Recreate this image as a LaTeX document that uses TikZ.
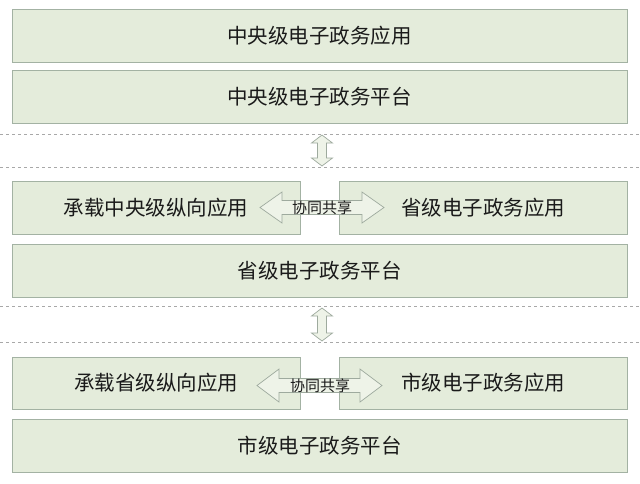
\documentclass[tikz,border=0pt]{standalone}
\usepackage{fontspec}
\newfontfamily\cjk{Noto Sans CJK SC}
\definecolor{boxfill}{HTML}{E4ECDB}
\definecolor{boxline}{HTML}{A3B2A3}
\definecolor{arrfill}{HTML}{EEF3E8}
\definecolor{arrline}{HTML}{9EAA9E}
\definecolor{txt}{HTML}{1A1A1A}
\definecolor{dashc}{HTML}{A8A8A8}
\begin{document}
\begin{tikzpicture}[x=1pt,y=-1pt,
  layer/.style={draw=boxline,fill=boxfill,line width=0.8pt,inner sep=0pt,font=\cjk\fontsize{20.5}{20.5}\selectfont,text=txt},
  arrowsty/.style={draw=arrline,fill=arrfill,line width=0.7pt,line join=miter},
  sep/.style={draw=dashc,dashed,line width=0.6pt},
  small/.style={font=\cjk\fontsize{15}{15}\selectfont,text=txt,inner sep=0pt}]
\useasboundingbox (0,0) rectangle (640,483);
\fill[white] (0,0) rectangle (640,483);
% layers
\node[layer,minimum width=615pt,minimum height=53pt] (b1) at (319.5,35.5) {中央级电子政务应用};
\node[layer,minimum width=615pt,minimum height=53pt] (b2) at (319.5,96.5) {中央级电子政务平台};
\node[layer,minimum width=288pt,minimum height=53pt] (b3l) at (156,207.5) {承载中央级纵向应用};
\node[layer,minimum width=288pt,minimum height=53pt] (b3r) at (483,207.5) {省级电子政务应用};
\node[layer,minimum width=615pt,minimum height=53pt] (b4) at (319.5,270.5) {省级电子政务平台};
\node[layer,minimum width=288pt,minimum height=52pt] (b5l) at (156,383) {承载省级纵向应用};
\node[layer,minimum width=288pt,minimum height=52pt] (b5r) at (483,383) {市级电子政务应用};
\node[layer,minimum width=615pt,minimum height=53pt] (b6) at (319.5,445.5) {市级电子政务平台};
% separators
\coordinate (d1a) at (0,134); \coordinate (d1b) at (640,134);
\coordinate (d2a) at (0,167); \coordinate (d2b) at (640,167);
\coordinate (d3a) at (0,306); \coordinate (d3b) at (640,306);
\coordinate (d4a) at (0,342); \coordinate (d4b) at (640,342);
\draw[sep] (d1a) -- (d1b);
\draw[sep] (d2a) -- (d2b);
\draw[sep] (d3a) -- (d3b);
\draw[sep] (d4a) -- (d4b);
% vertical double arrows
\draw[arrowsty] (317.5,143) -- (311.5,143) -- (322,135) -- (332.5,143) -- (326.5,143) -- (326.5,158) -- (332.5,158) -- (322,166) -- (311.5,158) -- (317.5,158) -- cycle;
\draw[arrowsty] (317.5,316) -- (311.5,316) -- (322,308) -- (332.5,316) -- (326.5,316) -- (326.5,333) -- (332.5,333) -- (322,341) -- (311.5,333) -- (317.5,333) -- cycle;
% horizontal double arrows
\draw[arrowsty] (260,207.5) -- (282,192) -- (282,200.5) -- (362,200.5) -- (362,192) -- (384,207.5) -- (362,223) -- (362,214.5) -- (282,214.5) -- (282,223) -- cycle;
\node[small] (s1) at (322,207.5) {协同共享};
\draw[arrowsty] (257,385.5) -- (279,369) -- (279,378.5) -- (360,378.5) -- (360,369) -- (382,385.5) -- (360,402) -- (360,392.5) -- (279,392.5) -- (279,402) -- cycle;
\node[small] (s2) at (320,385.5) {协同共享};
\end{tikzpicture}
\end{document}
